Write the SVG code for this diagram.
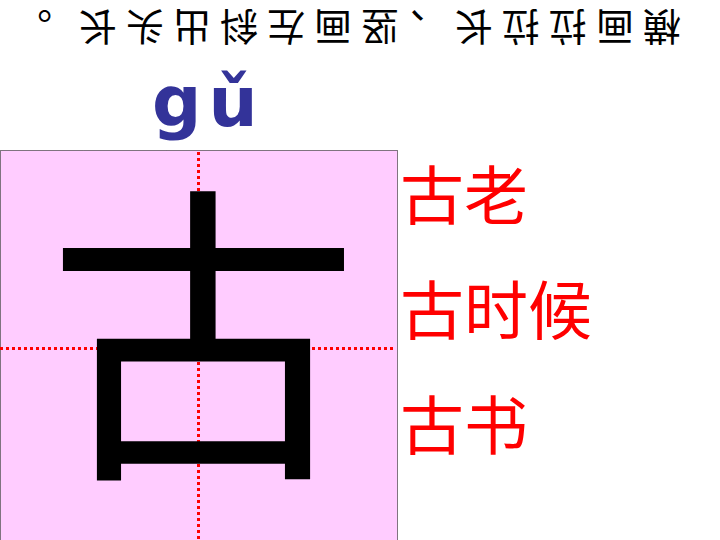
<svg xmlns="http://www.w3.org/2000/svg" width="720" height="540" viewBox="0 0 720 540">
<style>
.cjk{font-family:"Noto Sans CJK SC","Noto Sans CJK JP",sans-serif;}
.grid{stroke:#FF0000;stroke-width:3;stroke-dasharray:3 3;fill:none;}
.word{fill:#FF0000;font-size:64px;}
</style>
<rect width="720" height="540" fill="#FFFFFF"/>
<g id="hint" transform="rotate(180 357 27)">
<text class="cjk" y="41" font-size="38" fill="#000000" text-anchor="middle" x="52 99 146 193 240 308 334 381 428 475 522 569 616 681">横画拉拉长、竖画左斜出头长。</text>
</g>
<g id="pinyin">
<text x="152" y="126" font-family="'DejaVu Sans',Verdana,sans-serif" font-weight="bold" font-size="69" fill="#333399" letter-spacing="7">gǔ</text>
</g>
<g id="tianzige">
<rect x="0.5" y="150.5" width="397" height="400" fill="#FFCCFF" stroke="#000000" stroke-width="1" stroke-dasharray="1 1"/>
<line class="grid" x1="198.5" y1="152" x2="198.5" y2="540"/>
<line class="grid" x1="0" y1="348.5" x2="396" y2="348.5"/>
</g>
<g id="character">
<text class="cjk" x="203" y="455" font-size="314" fill="#000000" text-anchor="middle">古</text>
</g>
<g id="words">
<text class="cjk word" x="400" y="219">古老</text>
<text class="cjk word" x="400" y="334">古时候</text>
<text class="cjk word" x="400" y="449">古书</text>
</g>
</svg>
